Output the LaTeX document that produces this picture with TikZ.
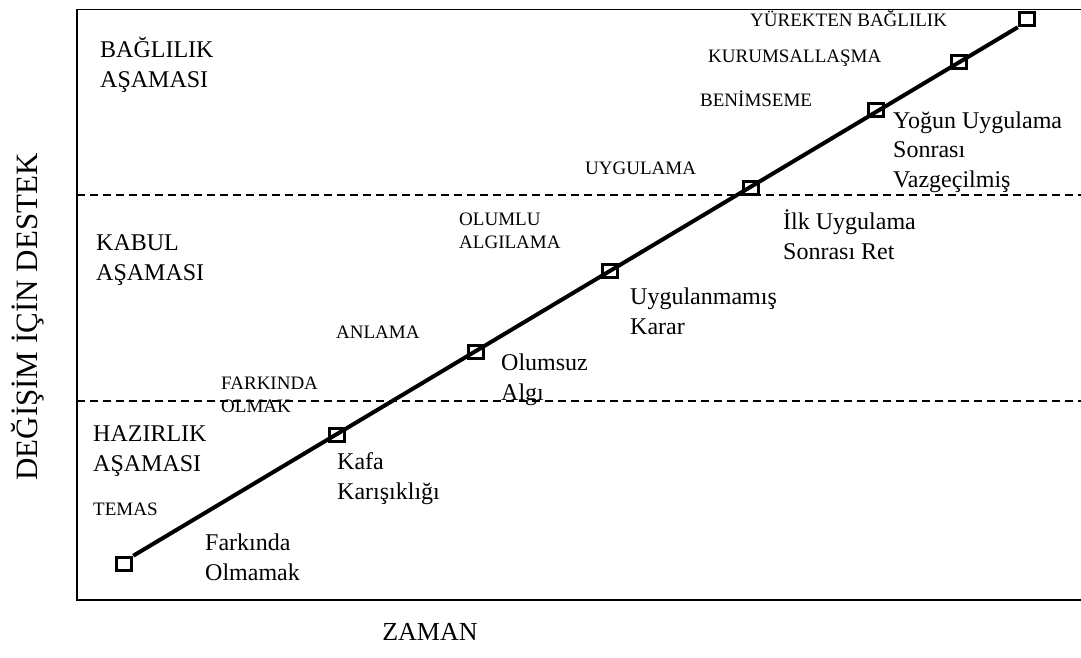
\documentclass[tikz,border=0pt]{standalone}
\usepackage{fontspec}
\setmainfont{Liberation Serif}
\tikzset{
  big/.style={anchor=base west, align=left, inner sep=0pt, font=\fontsize{24}{29.5}\selectfont},
  small/.style={anchor=base west, align=left, inner sep=0pt, font=\fontsize{19}{23}\selectfont},
  stagebox/.style={draw, line width=3.5pt, minimum width=15pt, minimum height=13pt, inner sep=0pt},
  phase/.style={dash pattern=on 8pt off 5pt, line width=1.5pt}
}
\begin{document}
\begin{tikzpicture}[x=1pt,y=-1pt]
        \useasboundingbox (0,0) rectangle (1081,657);
        % frame
        \draw[line width=1pt] (77,9) -- (1081,9);
        \draw[line width=2.5pt] (77,9) -- (77,600) -- (1081,600);
        \draw[phase] (77,195) -- (1081,195);
        \draw[phase] (77,401) -- (1081,401);
        % axes
        \node[font=\fontsize{26}{26}\selectfont] (zaman) at (430,632) {ZAMAN};
        \node[rotate=90, anchor=base, inner sep=0pt, font=\fontsize{31}{31}\selectfont] (destek) at (37,317) {DEĞİŞİM İÇİN DESTEK};
        % phases (multi-line nodes sit on their last baseline)
        \node[big] (baglilik) at (100,87) {BAĞLILIK\\AŞAMASI};
        \node[big] (kabul) at (96,280) {KABUL\\AŞAMASI};
        \node[big] (hazirlik) at (93,471) {HAZIRLIK\\AŞAMASI};
        % stages
        \node[stagebox] (s1) at (124,564) {};
        \node[stagebox] (s2) at (337,435) {};
        \node[stagebox] (s3) at (476,352) {};
        \node[stagebox] (s4) at (610,271) {};
        \node[stagebox] (s5) at (751,188) {};
        \node[stagebox] (s6) at (876,110) {};
        \node[stagebox] (s7) at (959,62) {};
        \node[stagebox] (s8) at (1027,19) {};
        \draw[line width=4pt] (s1.north east) -- (s8.south west);
        % upper labels
        \node[small] (temas) at (93,515) {TEMAS};
        \node[small] (farkinda) at (221,412) {FARKINDA\\OLMAK};
        \node[small] (anlama) at (336,338) {ANLAMA};
        \node[small] (olumlu) at (459,248) {OLUMLU\\ALGILAMA};
        \node[small] (uygulama) at (585,174) {UYGULAMA};
        \node[small] (benimseme) at (700,106) {BENİMSEME};
        \node[small] (kurum) at (708,62) {KURUMSALLAŞMA};
        \node[small] (yurekten) at (750,26) {YÜREKTEN BAĞLILIK};
        % lower labels
        \node[big] (l1) at (205,580) {Farkında\\Olmamak};
        \node[big] (l2) at (337,499) {Kafa\\Karışıklığı};
        \node[big] (l3) at (501,400) {Olumsuz\\Algı};
        \node[big] (l4) at (630,334) {Uygulanmamış\\Karar};
        \node[big] (l5) at (783,259) {İlk Uygulama\\Sonrası Ret};
        \node[big] (l6) at (893,187) {Yoğun Uygulama\\Sonrası\\Vazgeçilmiş};
    \end{tikzpicture}
\end{document}
